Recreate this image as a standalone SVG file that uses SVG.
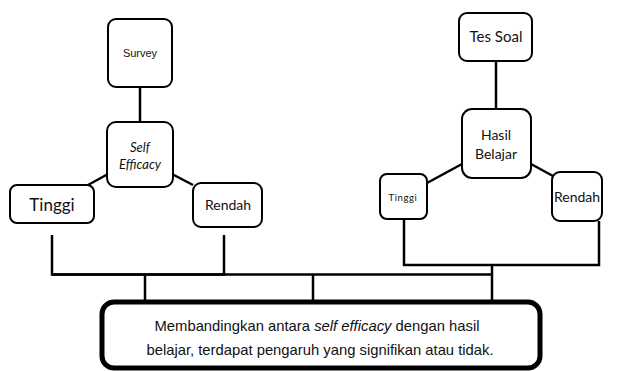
<svg xmlns="http://www.w3.org/2000/svg" width="620" height="371" viewBox="0 0 620 371">
<style>
.box{fill:#fff;stroke:#000;stroke-width:2}
.c{fill:none;stroke:#000;stroke-width:2.5}
.t{font-family:Lato,"Open Sans",sans-serif;fill:#111;text-anchor:middle}
.a{font-family:"Liberation Sans",Arial,sans-serif;fill:#111;text-anchor:middle}
</style>
<rect width="620" height="371" fill="#fff"/>
<g id="connectors">
<line class="c" x1="140" y1="87" x2="140" y2="122"/>
<line class="c" x1="108" y1="174" x2="88" y2="185"/>
<line class="c" x1="172" y1="174" x2="193" y2="185"/>
<line class="c" x1="496" y1="61" x2="496" y2="110"/>
<line class="c" x1="462" y1="164" x2="427" y2="183"/>
<line class="c" x1="531" y1="164" x2="553" y2="176"/>
<polyline class="c" points="52,235 52,274.5 224,274.5 224,235"/>
<line class="c" x1="52" y1="274.5" x2="492" y2="274.5"/>
<line class="c" x1="145" y1="274.5" x2="145" y2="301"/>
<line class="c" x1="313" y1="274.5" x2="313" y2="301"/>
<polyline class="c" points="404,219 404,265 599,265 599,221"/>
<line class="c" x1="492" y1="265" x2="492" y2="301"/>
</g>
<g id="survey"><rect class="box" x="108" y="19" width="64" height="68" rx="8"/><text class="a" x="140" y="57" font-size="11">Survey</text></g>
<g id="self-efficacy"><rect class="box" x="107" y="122" width="66" height="65" rx="9"/><text class="t" x="140" y="152" font-size="13" font-style="italic">Self</text><text class="t" x="140" y="169" font-size="13" font-style="italic">Efficacy</text></g>
<g id="tinggi-left"><rect class="box" x="10" y="185" width="84" height="38" rx="7"/><text class="t" x="52" y="211" font-size="17">Tinggi</text></g>
<g id="rendah-left"><rect class="box" x="193" y="183" width="69" height="44" rx="8"/><text class="t" x="228" y="210" font-size="14">Rendah</text></g>
<g id="tes-soal"><rect class="box" x="459" y="13" width="73" height="48" rx="8"/><text class="t" x="496" y="42" font-size="15">Tes Soal</text></g>
<g id="hasil-belajar"><rect class="box" x="462" y="109" width="69" height="69" rx="10"/><text class="t" x="496" y="140" font-size="14">Hasil</text><text class="t" x="496" y="159" font-size="14">Belajar</text></g>
<g id="tinggi-right"><rect class="box" x="380" y="174" width="47" height="45" rx="7"/><text class="t" x="403" y="201" font-size="9.5" letter-spacing="0.6">Tinggi</text></g>
<g id="rendah-right"><rect class="box" x="552" y="172" width="50" height="49" rx="8"/><text class="t" x="577" y="202" font-size="14">Rendah</text></g>
<g id="kesimpulan"><rect x="102" y="302" width="438" height="66" rx="12" fill="#fff" stroke="#000" stroke-width="5"/>
<text class="a" x="317" y="331" font-size="14.8">Membandingkan antara <tspan font-style="italic">self efficacy</tspan> dengan hasil</text>
<text class="a" x="320" y="355" font-size="14.8">belajar, terdapat pengaruh yang signifikan atau tidak.</text></g>
</svg>
